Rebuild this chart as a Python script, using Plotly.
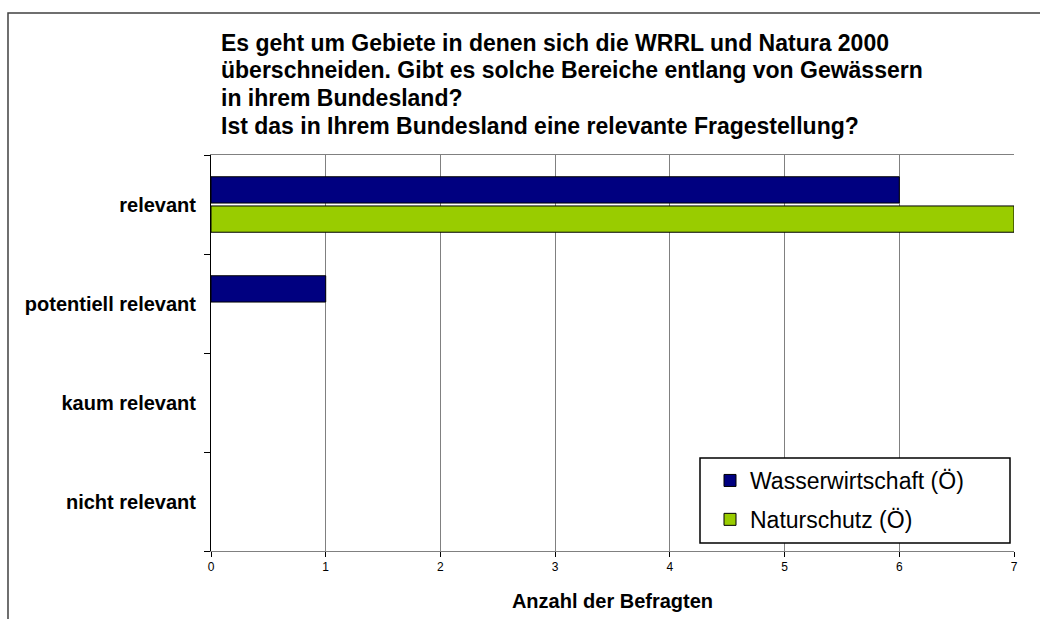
import plotly.graph_objects as go

# Data
categories = ['relevant', 'potentiell relevant', 'kaum relevant', 'nicht relevant']
wasser = [6, 1, 0, 0]
natur = [7, 0, 0, 0]
series_names = ['Wasserwirtschaft (Ö)', 'Naturschutz (Ö)']
x_ticks = [0, 1, 2, 3, 4, 5, 6, 7]
title_lines = [
    'Es geht um Gebiete in denen sich die WRRL und Natura 2000',
    'überschneiden. Gibt es solche Bereiche entlang von Gewässern',
    'in ihrem Bundesland?',
    'Ist das in Ihrem Bundesland eine relevante Fragestellung?',
]

FONT = 'Liberation Sans, Arial, sans-serif'

# plot area in pixels (for placing annotations)
L, R, T, B = 211, 1014, 155, 551
W, H = R - L, B - T


def px(x):
    return (x - L) / W


def py(y):
    return (B - y) / H


def outline(vals):
    # no outline on empty bars
    return [1 if v > 0 else 0 for v in vals]


data = [
    go.Bar(y=categories, x=wasser, name=series_names[0], orientation='h',
           marker=dict(color='#000080', line=dict(color='black', width=outline(wasser))),
           legendgroup='a'),
    go.Bar(y=categories, x=natur, name=series_names[1], orientation='h',
           marker=dict(color='#99CC00', line=dict(color='black', width=outline(natur))),
           legendgroup='b'),
]

fig = go.Figure(data=data)

annotations = []
for i, line in enumerate(title_lines):
    annotations.append(dict(text='<b>%s</b>' % line, xref='paper', yref='paper',
                            x=px(219), y=py(43 + i * 27.5), xanchor='left', yanchor='middle',
                            showarrow=False, font=dict(family=FONT, size=23, color='black')))

fig.update_layout(
    width=1040, height=619,
    margin=dict(l=L, r=1040 - R, t=T, b=619 - B),
    paper_bgcolor='white', plot_bgcolor='white',
    barmode='group', bargap=0.41, bargroupgap=0.1,
    font=dict(family=FONT, color='black'),
    annotations=annotations,
    legend=dict(x=px(710), y=py(459), xanchor='left', yanchor='top',
                bgcolor='rgba(0,0,0,0)', borderwidth=0,
                font=dict(family=FONT, size=23), traceorder='grouped',
                tracegroupgap=6),
    xaxis=dict(range=[0, 7], tickvals=x_ticks, showgrid=True, gridcolor='#808080',
               gridwidth=1, showline=True, linecolor='#808080', mirror=True,
               ticks='outside', ticklen=5, tickcolor='black', zeroline=False,
               tickfont=dict(size=12),
               title=dict(text='<b>Anzahl der Befragten</b>', font=dict(size=20), standoff=20)),
    yaxis=dict(autorange='reversed', showline=True, linecolor='black', showgrid=False,
               ticks='outside', ticklen=6, tickson='boundaries', tickcolor='black',
               tickfont=dict(size=20), ticklabelstandoff=10),
    shapes=[
        # outer frame (partly cut off)
        dict(type='path', xref='paper', yref='paper',
             path='M %f %f L %f %f L %f %f' % (px(8), py(640), px(8), py(13), px(1060), py(13)),
             line=dict(color='#404040', width=1.5)),
        # legend box
        dict(type='rect', xref='paper', yref='paper', layer='above',
             x0=px(700), x1=px(1010), y0=py(543), y1=py(458),
             fillcolor='white', line=dict(color='black', width=1.5)),
    ],
)

# bold category labels
fig.update_yaxes(ticktext=['<b>%s</b>' % c for c in categories], tickvals=categories)

fig.write_html('out.html', config={'displayModeBar': False},
               post_script="document.body.style.margin='0';")
